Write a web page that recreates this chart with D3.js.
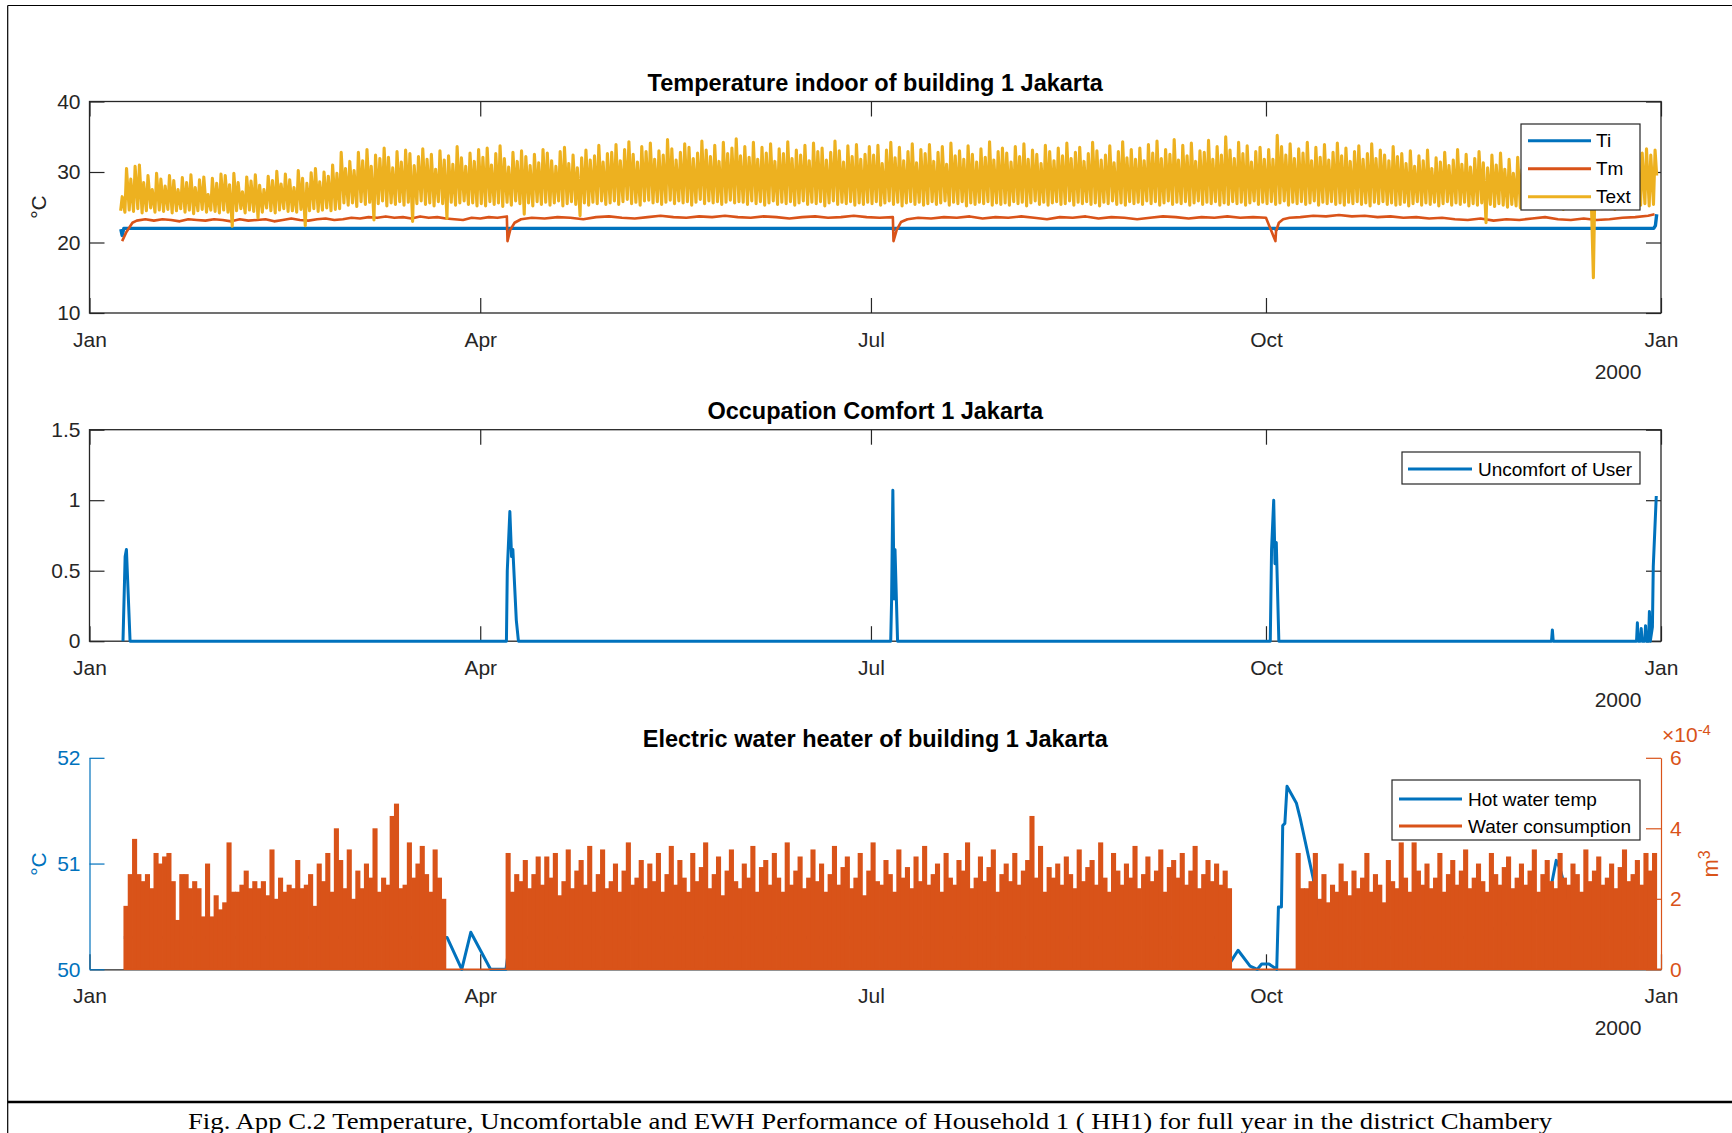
<!DOCTYPE html>
<html><head><meta charset="utf-8">
<script src="https://cdn.jsdelivr.net/npm/d3@7"></script>
<style>
body{margin:0;background:#fff}
svg{display:block}
text{font-family:"Liberation Sans",Arial,Helvetica,sans-serif}
</style>
</head><body>
<svg id="c" width="1732" height="1133"></svg>
<script>
// ---------------- DATA ----------------
const monthLabels = ["Jan","Apr","Jul","Oct","Jan"];
const yearLabel = "2000";
const titles = ["Temperature indoor of building 1 Jakarta","Occupation Comfort 1 Jakarta","Electric water heater of building 1 Jakarta"];
const tempTicks = [10,20,30,40];
const comfortTicks = [0,0.5,1,1.5];
const hwTicks = [50,51,52];
const waterTicks = [0,2,4,6]; // x 10^-4 m^3

// Text: daily min / max (°C), one array per month, first day of each month array (day-of-year, 0 = Jan 1)
const textMonthStart = [7,31,60,91,121,152,182,213,244,274,305,335];
const textMax = [
 [26.5,30.5,29,30.8,31,28.5,29.5,27.5,29.8,29,28,29.5,28.8,27.5,29.2,28.5,29.6,27.8,28.9,29.3,26.8,29.1,28.4,29.7],
 [29.5,28.2,29.8,28.5,27.2,29.3,28.7,29.6,28.1,27.5,29.4,28.8,30.1,28.3,29.7,28.9,27.8,30.2,29.1,28.4,29.9,30.5,28.6,30.0,29.4,31.0,29.8,32.8,30.5],
 [31.5,30.2,32.8,31.6,33.2,30.8,32.4,31.9,33.4,32.1,30.6,32.9,31.4,33.1,32.6,30.9,32.2,33.3,31.8,32.5,30.4,33.0,31.7,32.3,31.1,33.6,32.0,30.8,32.7,31.5,33.2],
 [32.1,33.4,31.0,32.6,33.7,31.9,30.7,32.8,31.5,33.0,32.2,30.9,32.5,31.3,33.2,32.7,31.6,30.8,32.9,33.5,31.2,32.4,30.6,32.0,33.1,31.7,32.3,33.8,31.4,32.6],
 [32.8,33.9,31.6,33.2,34.3,32.5,31.4,33.6,32.9,34.1,31.8,33.0,32.4,34.6,33.3,31.7,32.8,34.0,33.5,31.9,32.7,34.4,33.1,32.2,33.8,31.5,34.2,32.6,33.4,34.7,32.3],
 [33.6,32.1,34.2,31.8,33.5,32.7,34.0,31.5,33.3,32.6,34.3,31.9,33.1,32.4,33.8,31.6,34.1,32.9,33.4,31.7,32.8,34.4,33.0,31.4,33.7,32.2,33.9,31.8,32.5,33.6],
 [32.4,33.8,31.2,33.1,34.2,32.0,33.5,31.6,32.9,34.0,31.3,33.2,32.6,33.9,31.5,32.8,33.6,31.1,34.1,32.3,33.0,31.8,33.7,32.5,31.4,33.3,32.1,34.3,31.7,32.9,33.4],
 [32.7,31.4,33.6,32.2,34.0,31.8,33.1,32.5,31.2,33.8,32.9,31.6,33.4,32.3,34.1,31.9,32.8,33.5,31.5,32.6,34.2,33.0,31.7,32.4,33.7,31.3,32.9,34.3,32.0,33.2,31.8],
 [33.4,31.6,33.9,32.7,34.4,31.9,33.2,32.5,34.6,31.7,33.8,32.3,34.1,31.5,33.0,32.8,34.5,31.8,33.6,32.4,35.0,33.1,31.9,34.2,32.6,33.7,31.4,32.9,33.5,31.8],
 [33.2,31.8,35.2,33.6,32.4,34.0,31.9,33.3,32.7,34.2,31.6,33.5,32.1,33.9,31.7,32.8,34.1,32.3,33.4,31.5,32.9,33.7,31.8,32.6,34.0,31.9,33.1,32.4,31.6,33.6,32.2],
 [32.6,31.2,33.0,30.8,32.3,31.6,33.1,30.5,32.0,31.4,32.8,30.9,31.7,33.2,31.1,32.5,30.7,31.9,32.9,31.3,30.6,32.4,31.0,32.7,30.4,31.8,29.8,32.1,30.3,31.5],
 [29.5,31.2,28.8,30.6,29.9,31.0,28.4,30.3,29.7,31.1,28.9,30.5,29.2,30.8,29.6,28.7,30.1,29.4,27.8,29.0,30.6,28.5,29.8,27.6,31.0,28.3,32.7,33.3,32.4,33.1]
];
const textMin = [
 [24.5,24.3,24.6,24.4,24.8,24.2,24.5,24.9,24.3,24.6,24.4,24.7,24.2,24.5,24.8,24.3,24.6,24.1,24.5,24.7,24.3,24.6,24.4,24.2],
 [24.6,24.3,22.3,24.5,24.8,24.2,24.6,24.4,23.5,24.3,24.9,24.5,24.2,24.6,24.8,24.4,24.5,24.3,24.7,22.4,24.5,24.8,24.4,24.6,24.9,24.5,24.7,24.8,25.6],
 [25.3,25.6,25.1,25.8,25.4,25.7,23.2,25.5,25.9,25.2,25.6,25.4,25.8,25.3,25.7,23.0,25.5,25.9,25.4,25.6,25.2,25.8,25.5,23.4,25.7,25.3,25.6,25.9,25.4,25.6,25.2],
 [25.5,25.2,25.8,25.4,25.6,25.1,25.7,25.3,25.9,25.5,24.0,25.6,25.2,25.8,25.4,25.7,25.3,25.6,25.9,25.2,25.5,25.8,25.4,23.8,25.6,25.3,25.7,25.5,25.9,25.4],
 [25.6,25.9,25.4,25.8,26.1,25.5,25.7,25.3,25.9,26.0,25.6,25.8,25.4,25.7,26.0,25.5,25.9,25.6,25.8,25.3,25.7,26.1,25.5,25.9,25.6,25.8,25.4,25.7,26.0,25.6,25.8],
 [25.7,25.4,25.9,25.5,25.8,25.3,25.6,25.9,25.4,25.7,25.5,25.8,25.3,25.6,25.9,25.4,25.7,25.5,25.8,25.2,25.6,25.9,25.4,25.7,25.5,25.8,25.3,25.6,25.4,25.7],
 [25.5,25.8,25.3,25.6,25.9,25.4,25.7,25.2,25.6,25.8,25.4,25.7,25.3,25.5,25.8,25.4,25.6,25.9,25.3,25.7,25.5,25.8,25.2,25.6,25.4,25.7,25.5,25.8,25.3,25.6,25.4],
 [25.6,25.3,25.8,25.5,25.7,25.2,25.6,25.9,25.4,25.7,25.3,25.6,25.8,25.4,25.5,25.9,25.3,25.7,25.5,25.8,25.4,25.6,25.2,25.7,25.5,25.9,25.4,25.6,25.3,25.8,25.5],
 [25.7,25.4,25.9,25.5,25.8,25.3,25.6,25.9,25.4,25.7,25.5,25.8,25.3,25.6,25.9,25.4,25.7,25.5,25.8,25.3,25.6,25.4,25.8,25.5,25.7,25.3,25.6,25.9,25.4,25.7],
 [25.5,25.8,25.4,25.6,25.9,25.3,25.7,25.5,25.8,25.4,25.6,25.9,25.3,25.7,25.5,25.8,25.4,25.6,25.3,25.7,25.5,25.8,25.4,25.6,25.2,25.7,25.5,25.8,25.4,25.6,25.3],
 [25.4,25.7,25.2,25.5,25.8,25.3,25.6,25.4,25.7,25.2,25.5,25.8,25.3,25.6,25.4,25.7,25.2,25.5,25.3,25.6,22.8,25.4,25.1,25.5,25.3,25.0,25.4,25.2,24.9,25.3],
 [25.0,25.3,24.8,25.2,25.4,24.9,25.1,25.3,24.7,25.0,25.2,24.8,25.1,25.3,25.0,15.0,25.2,24.8,25.0,25.1,24.7,25.0,25.2,24.9,25.1,24.8,25.3,25.5,25.2,25.4]
];
// Tm (°C) [day, value]
const tmDays = [7.6,8.6,10,11,13,15,17,19,21,23,25,27,29,31,33,35,37,39,41,43,45,47,49,51,53,55,57,59,61,63,65,67,69,71,73,75,77,79,81,83,85,87,89,91,93,95,97.2,97.35,98,99,100.5,103,106,109,112,115,118,121,124,127,130,133,136,139,142,145,148,151,154,157,160,163,166,169,172,175,178,181,184,187.1,187.25,188,189,190.5,193,196,199,202,205,208,211,214,217,220,223,226,229,232,235,238,241,244,247,250,253,256,259,262,265,268,271,274,276.2,276.35,277,278,279.5,282,285,288,291,294,297,300,303,306,309,312,315,318,321,324,327,330,333,336,339,342,345,348,351,354,357,360,363,364.5,365];
const tmVals = [20.2,21.5,22.8,23.1,23.3,23.1,23.3,23.2,23.0,23.3,23.2,23.1,23.3,23.2,23.0,23.3,23.1,23.2,23.3,23.0,23.2,23.4,23.2,23.1,23.3,23.4,23.2,23.3,23.5,23.4,23.6,23.5,23.7,23.5,23.6,23.4,23.7,23.5,23.6,23.4,23.3,23.2,23.5,23.4,23.6,23.5,23.7,20.2,21.8,22.8,23.3,23.5,23.4,23.6,23.5,23.3,23.6,23.7,23.5,23.4,23.6,23.8,23.6,23.5,23.7,23.6,23.8,23.6,23.5,23.7,23.6,23.4,23.6,23.7,23.5,23.6,23.8,23.6,23.5,23.6,20.2,21.8,22.9,23.3,23.5,23.4,23.6,23.5,23.7,23.4,23.6,23.5,23.7,23.5,23.3,23.6,23.5,23.7,23.4,23.6,23.5,23.3,23.5,23.7,23.6,23.4,23.6,23.5,23.7,23.5,23.6,23.5,20.2,21.6,22.8,23.3,23.5,23.6,23.8,23.7,23.9,23.7,23.8,23.6,23.7,23.5,23.6,23.4,23.5,23.3,23.2,23.4,23.1,23.3,23.2,23.4,23.6,23.3,23.2,23.4,23.2,23.3,23.5,23.6,23.8,24.0];
// Ti (°C) [day, value]
const tiDays = [7.3,7.6,8.0,97.2,97.35,97.6,187.1,187.25,187.5,276.2,276.35,276.6,364.3,364.7,365];
const tiVals = [21.9,21.0,22.0,22.0,21.8,22.0,22.0,21.8,22.0,22.0,21.8,22.0,22.0,22.4,24.0];
// Uncomfort of user [day, value]
const uDays = [7.8,8.3,8.6,9.45,97.1,97.3,97.9,98.3,98.6,99.4,99.9,186.6,186.8,187.1,187.4,187.6,188.2,275.0,275.3,275.8,276.1,276.4,277.0,340.5,340.7,340.9,360.3,360.5,360.7,361.2,361.4,361.6,362.2,362.4,362.6,363.1,363.3,363.5,364.0,364.2,364.9];
const uVals = [0,0.6,0.65,0,0,0.5,0.92,0.6,0.65,0.15,0,0,0.28,1.07,0.3,0.65,0,0,0.65,1.0,0.55,0.7,0,0,0.08,0,0,0.13,0,0,0.09,0,0,0.11,0,0,0.21,0,0.1,0.53,1.03];
// Hot water temperature (°C) [day, value]
const hwDays = [8,20,40,60,82.5,83.3,86.7,88.8,93.4,97,98,150,200,265,265.3,267.5,270.3,272,273,274.7,276.5,276.9,277.6,277.9,278.4,278.9,281.1,281.9,285,287,320,336,338,340.4,341.6,342.5,344.2,346,365];
const hwVals = [50.3,50.3,50.3,50.3,50.3,50.3,50.0,50.35,50.0,50.0,50.3,50.3,50.3,50.3,50.04,50.18,50.03,50.0,50.05,50.05,50.0,50.59,50.59,51.36,51.38,51.73,51.57,51.44,50.86,50.3,50.3,50.5,50.6,50.78,51.03,50.95,50.69,50.3,50.3];
// Water consumption (x 10^-4 m^3), daily, three runs starting at these days
const waterStartDays = [8,97,281];
const waterA = [1.8,2.7,3.7,2.7,2.5,2.7,2.3,3.3,3.0,3.2,3.3,2.5,1.4,2.7,2.7,
 2.3,2.5,2.3,1.5,3.0,1.5,2.1,1.7,1.9,3.6,2.2,2.2,2.4,2.8,2.3,
 2.5,2.3,2.5,2.1,3.4,2.0,2.6,2.2,2.4,2.3,3.1,2.3,2.4,2.7,1.8,
 3.0,2.5,3.3,2.2,4.0,3.1,2.3,3.4,2.0,2.8,2.3,3.0,2.6,4.0,2.2,
 2.6,2.4,4.35,4.7,2.3,2.4,3.6,2.6,3.0,3.5,2.7,2.2,3.4,2.6,2.0];
const waterB = [3.3,2.2,2.7,2.5,3.1,2.3,2.7,3.2,2.4,3.2,2.6,3.3,2.1,
 2.5,3.4,2.3,2.8,3.1,2.4,3.5,2.2,2.7,3.4,2.3,2.5,3.0,
 2.2,2.8,3.6,2.4,2.6,3.1,2.3,3.0,2.5,3.3,2.2,2.7,3.5,
 2.4,3.1,2.6,2.2,3.3,2.5,2.9,3.6,2.3,2.7,3.2,2.1,2.8,
 3.4,2.5,2.3,3.0,2.6,3.5,2.2,2.9,3.1,2.4,3.3,2.6,2.2,
 3.6,2.4,2.8,3.2,2.3,2.6,3.4,2.5,3.0,2.2,2.7,3.5,2.4,
 2.9,3.2,2.3,2.6,3.3,2.1,2.8,3.6,2.5,2.4,3.1,2.7,2.2,
 3.4,2.6,2.9,2.3,3.2,2.5,3.5,2.4,2.7,3.0,2.2,3.3,2.6,
 2.4,3.1,2.8,3.6,2.3,2.6,3.2,2.5,2.9,3.4,2.2,2.7,3.0,
 2.5,3.3,2.4,2.8,3.1,4.35,2.6,3.5,2.2,2.9,2.6,3.0,2.4,
 3.2,2.7,2.3,3.4,2.5,2.9,3.1,2.4,3.6,2.6,2.2,3.3,2.8,
 2.4,3.0,2.6,3.5,2.3,2.7,3.2,2.5,2.8,3.4,2.2,2.9,3.1,
 2.6,3.3,2.4,2.8,3.5,2.3,2.7,3.1,2.5,3.0,2.4,2.8,2.3];
const waterC = [3.3,2.3,2.3,2.5,3.3,2.0,2.7,1.9,2.4,2.2,3.0,2.5,
 2.1,2.8,2.3,2.6,3.3,2.2,2.7,2.4,1.9,3.1,2.5,2.3,
 3.6,2.6,2.2,3.6,2.8,2.4,3.0,2.3,2.6,3.3,2.2,2.7,
 3.1,2.4,2.8,3.4,2.3,2.6,3.0,2.5,2.2,3.3,2.7,2.4,
 2.9,3.2,2.3,2.6,3.0,2.4,2.8,3.4,2.2,2.7,3.1,2.5,
 2.3,3.3,2.6,2.4,3.0,2.7,2.2,3.4,2.5,2.8,3.2,2.4,
 2.6,3.0,2.3,2.9,3.4,2.5,2.7,3.1,2.4,3.3,2.8,3.3];
const caption = "Fig. App C.2 Temperature, Uncomfortable and EWH Performance of Household 1 ( HH1) for full year in the district Chambery";

// ---------------- LAYOUT / STYLE ----------------
const BLUE="#0072BD", ORANGE="#D95319", YELLOW="#EDB120", AX="#262626";
const X0=89.5, X1=1661, H=211.5;
const tops=[101.5,429.7,757.8];
const T0 = Date.UTC(2000,0,1);
const dd = d => new Date(T0 + d*864e5);
const x = d3.scaleUtc().domain([dd(0), dd(366)]).range([X0,X1]);
const tickDates = d3.utcMonth.every(3).range(dd(0), dd(366.5));
const fmt = d => String(d);
const svg = d3.select("#c");

// frame
svg.append("line").attr("x1",7.7).attr("x2",1732).attr("y1",5.5).attr("y2",5.5).attr("stroke","#000").attr("stroke-width",1.2);
svg.append("line").attr("x1",7.7).attr("x2",7.7).attr("y1",5.5).attr("y2",1133).attr("stroke","#000").attr("stroke-width",1.2);
svg.append("line").attr("x1",7.7).attr("x2",1732).attr("y1",1102).attr("y2",1102).attr("stroke","#000").attr("stroke-width",2.5);
const cap = svg.append("text").attr("x",870).attr("y",1129).attr("text-anchor","middle")
  .style("font-family","'Liberation Serif','Times New Roman',serif").style("font-size","24px").attr("fill","#000").text(caption);
cap.attr("textLength",1364).attr("lengthAdjust","spacingAndGlyphs");

function styleAxis(sel, color, fs){
  sel.attr("color",color);
  sel.selectAll("line").attr("stroke-width",1.2);
  sel.selectAll("text").style("font-size",(fs||21)+"px").attr("fill",color);
}
function xAxes(g, top, box){
  const b = g.append("g").attr("transform",`translate(0,${top+H})`)
    .call(d3.axisBottom(x).tickValues(tickDates).tickFormat((d,i)=>monthLabels[i]).tickSize(-15).tickSizeOuter(0).tickPadding(19));
  styleAxis(b, AX);
  if (box){
    b.select(".domain").remove();
    const t = g.append("g").attr("transform",`translate(0,${top})`)
      .call(d3.axisTop(x).tickValues(tickDates).tickFormat("").tickSize(-15).tickSizeOuter(0));
    t.select(".domain").remove(); styleAxis(t, AX);
  } else {
    b.select(".domain").attr("stroke-width",1.2);
  }
  g.append("text").attr("x",1618).attr("y",top+H+66).attr("text-anchor","middle").style("font-size","21px").attr("fill",AX).text(yearLabel);
}
function title(g, top, s){
  g.append("text").attr("x",(X0+X1)/2).attr("y",top-10.5).attr("text-anchor","middle")
    .style("font-size","23.5px").style("font-weight","bold").attr("fill","#000").text(s);
}
function boxPanel(top, dom, ticks){
  const g = svg.append("g");
  const y = d3.scaleLinear().domain(dom).range([top+H, top]);
  const l = g.append("g").attr("transform",`translate(${X0},0)`).call(d3.axisLeft(y).tickValues(ticks).tickFormat(fmt).tickSize(-15).tickSizeOuter(0).tickPadding(9));
  l.select(".domain").remove(); styleAxis(l, AX);
  const r = g.append("g").attr("transform",`translate(${X1},0)`).call(d3.axisRight(y).tickValues(ticks).tickFormat("").tickSize(-15).tickSizeOuter(0));
  r.select(".domain").remove(); styleAxis(r, AX);
  xAxes(g, top, true);
  g.append("rect").attr("x",X0).attr("y",top).attr("width",X1-X0).attr("height",H).attr("fill","none").attr("stroke",AX).attr("stroke-width",1.3);
  return {g,y};
}
function legend(g, bx, by, bw, bh, sx0, sx1, tx, rows){
  g.append("rect").attr("x",bx).attr("y",by).attr("width",bw).attr("height",bh).attr("fill","#fff").attr("stroke",AX).attr("stroke-width",1.2);
  rows.forEach(r=>{
    g.append("line").attr("x1",sx0).attr("x2",sx1).attr("y1",r.y).attr("y2",r.y).attr("stroke",r.c).attr("stroke-width",3);
    g.append("text").attr("x",tx).attr("y",r.y).attr("dy","0.35em").style("font-size","19px").attr("fill","#000").text(r.t);
  });
}
const pairs = (ds,vs)=>ds.map((d,i)=>[d,vs[i]]);

// ---------- Panel 1 ----------
{
  const {g,y} = boxPanel(tops[0],[10,40],tempTicks);
  title(g,tops[0],titles[0]);
  g.append("text").attr("transform",`translate(46,207) rotate(-90)`).attr("text-anchor","middle").style("font-size","21px").attr("fill",AX).text("°C");
  const line = d3.line().x(p=>x(dd(p[0]))).y(p=>y(p[1]));
  g.append("path").attr("d",line(pairs(tiDays,tiVals))).attr("fill","none").attr("stroke",BLUE).attr("stroke-width",3.4).attr("stroke-linejoin","round");
  g.append("path").attr("d",line(pairs(tmDays,tmVals))).attr("fill","none").attr("stroke",ORANGE).attr("stroke-width",2.6).attr("stroke-linejoin","round");
  const tx = [];
  textMax.forEach((arr,m)=>arr.forEach((v,i)=>{
    const d = textMonthStart[m]+i;
    tx.push([d+0.25, textMin[m][i]]); tx.push([d+0.62, v]);
  }));
  tx.push([365.0, 29.5]);
  g.append("path").attr("d",line(tx)).attr("fill","none").attr("stroke",YELLOW).attr("stroke-width",3.1).attr("stroke-linejoin","round");
  legend(g,1521,124,119,86,1528,1591,1596,[{y:140.7,c:BLUE,t:"Ti"},{y:168.7,c:ORANGE,t:"Tm"},{y:196.7,c:YELLOW,t:"Text"}]);
}
// ---------- Panel 2 ----------
{
  const {g,y} = boxPanel(tops[1],[0,1.5],comfortTicks);
  title(g,tops[1],titles[1]);
  const line = d3.line().x(p=>x(dd(p[0]))).y(p=>y(p[1]));
  g.append("path").attr("d",line(pairs(uDays,uVals))).attr("fill","none").attr("stroke",BLUE).attr("stroke-width",3).attr("stroke-linejoin","round");
  legend(g,1402,452,238,32,1408,1472,1478,[{y:469,c:BLUE,t:"Uncomfort of User"}]);
}
// ---------- Panel 3 ----------
{
  const top = tops[2];
  const g = svg.append("g");
  const yL = d3.scaleLinear().domain([50,52]).range([top+H, top]);
  const yR = d3.scaleLinear().domain([0,6]).range([top+H, top]);
  title(g,top,titles[2]);
  xAxes(g, top, false);
  const l = g.append("g").attr("transform",`translate(${X0},0)`).call(d3.axisLeft(yL).tickValues(hwTicks).tickFormat(fmt).tickSize(-15).tickSizeOuter(0).tickPadding(9));
  styleAxis(l, BLUE); l.select(".domain").attr("stroke-width",1.2);
  const r = g.append("g").attr("transform",`translate(${X1},0)`).call(d3.axisRight(yR).tickValues(waterTicks).tickFormat(fmt).tickSize(-15).tickSizeOuter(0).tickPadding(9));
  styleAxis(r, ORANGE); r.select(".domain").attr("stroke-width",1.2);
  g.append("text").attr("transform",`translate(46,864) rotate(-90)`).attr("text-anchor","middle").style("font-size","21px").attr("fill",BLUE).text("°C");
  const rl = g.append("text").attr("transform",`translate(1718,864) rotate(-90)`).attr("text-anchor","middle").style("font-size","22px").attr("fill",ORANGE);
  rl.append("tspan").text("m");
  rl.append("tspan").attr("dy","-0.5em").style("font-size","16px").text("3");
  const ex = g.append("text").attr("x",1662).attr("y",742).style("font-size","21px").attr("fill",ORANGE);
  ex.append("tspan").text("×10");
  ex.append("tspan").attr("dy","-0.45em").style("font-size","15px").text("-4");

  const line = d3.line().x(p=>x(dd(p[0]))).y(p=>yL(p[1]));
  g.append("path").attr("d",line(pairs(hwDays,hwVals))).attr("fill","none").attr("stroke",BLUE).attr("stroke-width",3).attr("stroke-linejoin","round");
  const bars = [];
  [waterA,waterB,waterC].forEach((arr,k)=>arr.forEach((v,i)=>bars.push({d:waterStartDays[k]+i, v})));
  g.selectAll("rect.bar").data(bars).join("rect").attr("class","bar")
    .attr("x",b=>x(dd(b.d))-0.4).attr("width",b=>x(dd(b.d+1))-x(dd(b.d))+0.8)
    .attr("y",b=>yR(b.v)).attr("height",b=>yR(0)-yR(b.v)).attr("fill",ORANGE);
  g.append("line").attr("x1",x(dd(waterStartDays[0]))).attr("x2",X1).attr("y1",yR(0)).attr("y2",yR(0)).attr("stroke",ORANGE).attr("stroke-width",1.6);
  legend(g,1392,780,248,60,1399,1462,1468,[{y:799,c:BLUE,t:"Hot water temp"},{y:826,c:ORANGE,t:"Water consumption"}]);
}
</script>
</body></html>
